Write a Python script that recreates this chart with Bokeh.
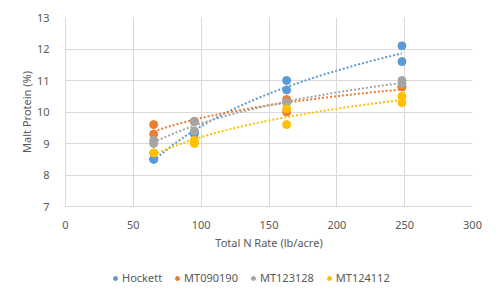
import numpy as np
from bokeh.plotting import figure
from bokeh.layouts import column
from bokeh.models import Legend, LegendItem, Range1d, FixedTicker
from bokeh.embed import file_html
from bokeh.resources import INLINE

# Data
n_rate = [65, 65, 95, 95, 163, 163, 248, 248]
hockett = [8.5, 8.5, 9.3, 9.35, 11.0, 10.7, 12.1, 11.6]
mt090190 = [9.6, 9.3, 9.7, 9.7, 10.4, 10.0, 10.8, 10.8]
mt123128 = [9.1, 9.0, 9.7, 9.4, 10.3, 10.3, 11.0, 10.9]
mt124112 = [8.7, 8.7, 9.1, 9.0, 10.1, 9.6, 10.5, 10.3]

series_names = ["Hockett", "MT090190", "MT123128", "MT124112"]
series_values = [hockett, mt090190, mt123128, mt124112]
colors = ["#5B9BD5", "#ED7D31", "#A5A5A5", "#FFC000"]

x_ticks = [0, 50, 100, 150, 200, 250, 300]
y_ticks = [7, 8, 9, 10, 11, 12, 13]

FONT = "Noto Sans"
TXT = "#595959"
GRID = "#d9d9d9"

p = figure(frame_width=407, frame_height=189, output_backend="svg",
           toolbar_location=None,
           x_range=Range1d(0, 300), y_range=Range1d(7, 13),
           min_border_left=65, min_border_right=20, min_border_top=17,
           min_border_bottom=50)
p.outline_line_color = None
p.background_fill_color = "white"
p.border_fill_color = "white"

xs = np.array(n_rate, dtype=float)
for name, vals, col in zip(series_names, series_values, colors):
    ys = np.array(vals, dtype=float)
    a, b = np.polyfit(np.log(xs), ys, 1)
    tx = np.linspace(xs.min(), xs.max(), 100)
    p.line(tx, a * np.log(tx) + b, line_color=col, line_width=2, line_dash="2 2")
    p.scatter(xs, ys, size=8, fill_color=col, line_color=col)

p.xaxis.ticker = FixedTicker(ticks=x_ticks)
p.yaxis.ticker = FixedTicker(ticks=y_ticks)
for ax in (p.xaxis[0], p.yaxis[0]):
    ax.axis_line_color = GRID
    ax.major_tick_line_color = None
    ax.minor_tick_line_color = None
    ax.major_label_text_font = FONT
    ax.major_label_text_font_size = "11px"
    ax.major_label_text_color = TXT
    ax.axis_label_text_font = FONT
    ax.axis_label_text_font_size = "11px"
    ax.axis_label_text_color = TXT
    ax.axis_label_text_font_style = "normal"
p.xaxis.axis_label = "Total N Rate (lb/acre)"
p.yaxis.axis_label = "Malt Protein (%)"
p.xaxis.major_label_standoff = 8
p.yaxis.major_label_standoff = 10
p.xaxis.axis_label_standoff = 3
p.yaxis.axis_label_standoff = 0

p.xgrid.grid_line_color = GRID
p.ygrid.grid_line_color = GRID
p.xgrid.ticker = FixedTicker(ticks=x_ticks)
p.ygrid.ticker = FixedTicker(ticks=y_ticks)

# Legend strip below the chart (its markers lie outside its own view)
lg = figure(width=492, height=40, output_backend="svg", toolbar_location=None,
            x_axis_type=None, y_axis_type=None,
            x_range=Range1d(0, 1), y_range=Range1d(0, 1),
            min_border_left=0, min_border_right=0, min_border_top=0,
            min_border_bottom=0)
lg.outline_line_color = None
lg.xgrid.visible = False
lg.ygrid.visible = False
items = []
for name, vals, col in zip(series_names, series_values, colors):
    r = lg.scatter(xs, vals, size=8, fill_color=col, line_color=col)
    items.append(LegendItem(label=name, renderers=[r]))

legend = Legend(items=items, orientation="horizontal", location=(45, 11),
                label_text_font=FONT, label_text_font_size="11px",
                label_text_color=TXT, glyph_width=10, glyph_height=10,
                label_standoff=2, spacing=10, border_line_color=None,
                background_fill_alpha=0, margin=0, padding=0)
lg.add_layout(legend, "center")

layout = column(p, lg, spacing=0)
open("out.html", "w").write(file_html(layout, INLINE))
